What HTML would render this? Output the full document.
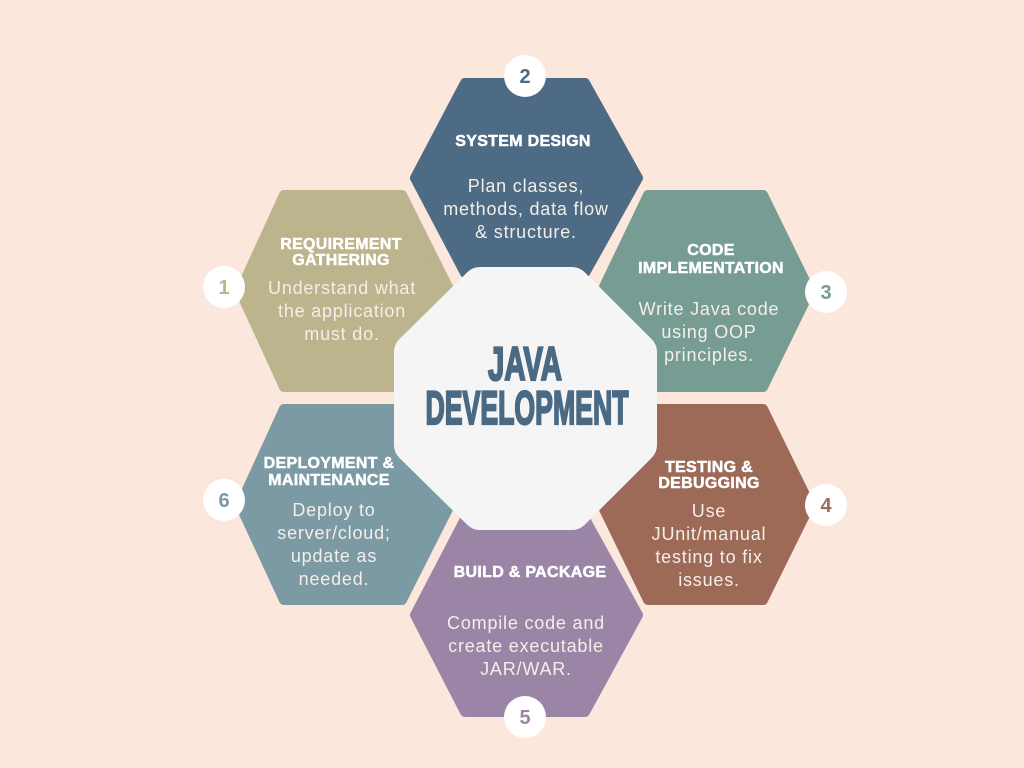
<!DOCTYPE html>
<html><head><meta charset="utf-8"><style>
html,body{margin:0;padding:0;background:#fce7dc;}
svg{display:block}
.t{font-family:"Liberation Sans",sans-serif;font-weight:bold;font-size:16px;fill:#fff;text-anchor:middle;letter-spacing:0.3px;stroke:#fff;stroke-width:0.5}
.b{font-family:"Liberation Sans",sans-serif;font-size:18px;fill:#f4efe8;text-anchor:middle;letter-spacing:0.8px}
.n{font-family:"Liberation Sans",sans-serif;font-weight:bold;font-size:20px;text-anchor:middle}
</style></head><body>
<svg width="1024" height="768" viewBox="0 0 1024 768">
<rect width="1024" height="768" fill="#fce7dc"/>
<g stroke-linejoin="round" stroke-width="10">
<polygon points="465,83 585,83 638,178 585,273 465,273 415,178" fill="#4d6b84" stroke="#4d6b84"/>
<polygon points="284,195 402,195 450,291 402,387 284,387 240,291" fill="#bbb48c" stroke="#bbb48c"/>
<polygon points="648,195 763,195 810,291 763,387 648,387 602,291" fill="#769c94" stroke="#769c94"/>
<polygon points="648,409 763,409 810,505 763,600 648,600 602,505" fill="#9c6a57" stroke="#9c6a57"/>
<polygon points="465,519 585,519 638,615 585,712 465,712 415,615" fill="#9b85a7" stroke="#9b85a7"/>
<polygon points="284,409 402,409 450,505 402,600 284,600 240,505" fill="#7b9aa4" stroke="#7b9aa4"/>
</g>
<polygon points="480,285 572,285 639,352 639,445 572,512 480,512 412,445 412,352" fill="#f5f5f6" stroke="#f5f5f6" stroke-width="36" stroke-linejoin="round"/>
<g font-family="'Liberation Sans Narrow','Liberation Sans',sans-serif" font-weight="bold" font-size="47" fill="#4a6a84" stroke="#4a6a84" stroke-width="2.2" text-anchor="middle">
<text x="525" y="380" textLength="74" lengthAdjust="spacingAndGlyphs">JAVA</text>
<text x="527" y="424" textLength="203" lengthAdjust="spacingAndGlyphs">DEVELOPMENT</text>
</g>

<text class="t" x="523" y="146">SYSTEM DESIGN</text>
<text class="b" x="526" y="192">Plan classes,</text>
<text class="b" x="526" y="215">methods, data flow</text>
<text class="b" x="526" y="238">&amp; structure.</text>

<text class="t" x="341" y="249">REQUIREMENT</text>
<text class="t" x="341" y="265">GATHERING</text>
<text class="b" x="342" y="294">Understand what</text>
<text class="b" x="342" y="317">the application</text>
<text class="b" x="342" y="340">must do.</text>

<text class="t" x="711" y="255">CODE</text>
<text class="t" x="711" y="273">IMPLEMENTATION</text>
<text class="b" x="709" y="315">Write Java code</text>
<text class="b" x="709" y="338">using OOP</text>
<text class="b" x="709" y="361">principles.</text>

<text class="t" x="709" y="472">TESTING &amp;</text>
<text class="t" x="709" y="488">DEBUGGING</text>
<text class="b" x="709" y="517">Use</text>
<text class="b" x="709" y="540">JUnit/manual</text>
<text class="b" x="709" y="563">testing to fix</text>
<text class="b" x="709" y="586">issues.</text>

<text class="t" x="530" y="577">BUILD &amp; PACKAGE</text>
<text class="b" x="526" y="629">Compile code and</text>
<text class="b" x="526" y="652">create executable</text>
<text class="b" x="526" y="675">JAR/WAR.</text>

<text class="t" x="329" y="468">DEPLOYMENT &amp;</text>
<text class="t" x="329" y="485">MAINTENANCE</text>
<text class="b" x="334" y="516">Deploy to</text>
<text class="b" x="334" y="539">server/cloud;</text>
<text class="b" x="334" y="562">update as</text>
<text class="b" x="334" y="585">needed.</text>

<g fill="#fff">
<circle cx="525" cy="76" r="21"/>
<circle cx="224" cy="287" r="21"/>
<circle cx="826" cy="292" r="21"/>
<circle cx="826" cy="505" r="21"/>
<circle cx="525" cy="717" r="21"/>
<circle cx="224" cy="500" r="21"/>
</g>
<text class="n" x="525" y="83" fill="#4d6b84">2</text>
<text class="n" x="224" y="294" fill="#bbb48c">1</text>
<text class="n" x="826" y="299" fill="#769c94">3</text>
<text class="n" x="826" y="512" fill="#9c6a57">4</text>
<text class="n" x="525" y="724" fill="#9b85a7">5</text>
<text class="n" x="224" y="507" fill="#7b9aa4">6</text>
</svg>
</body></html>
